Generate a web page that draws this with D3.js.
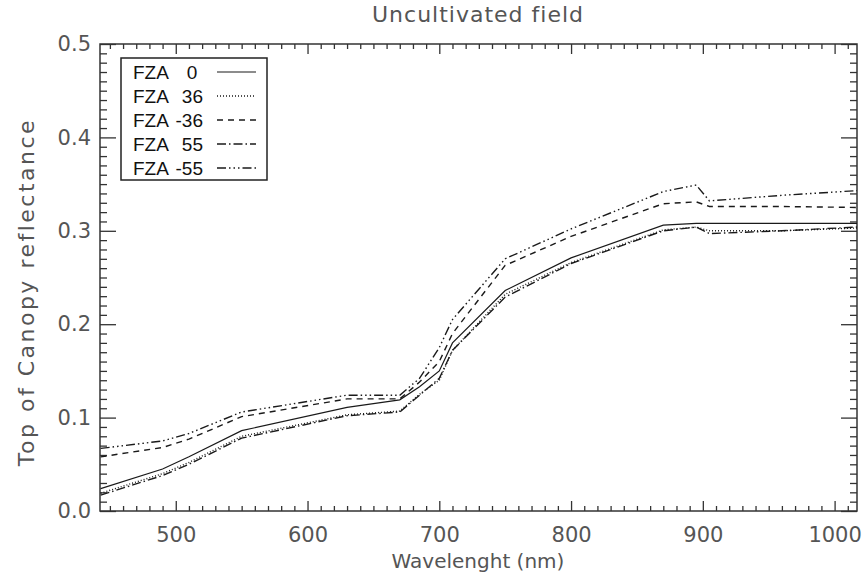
<!DOCTYPE html>
<html>
<head>
<meta charset="utf-8">
<script src="https://cdn.jsdelivr.net/npm/d3@7"></script>
<style>
  body { margin: 0; background: #fff; }
  .tickText { font-family: "DejaVu Sans", sans-serif; fill: #555; }
  .axisTitle { font-family: "DejaVu Sans", sans-serif; fill: #555; }
  .legendText { font-family: "Liberation Sans", Arial, sans-serif; fill: #111; }
</style>
</head>
<body>
<div id="chart"></div>
<script>
// Wavelengths (nm) shared by all curves
var wavelength = [443, 490, 510, 550, 630, 670, 685, 700, 710, 750, 800, 870, 895, 905, 960, 1017];

// Top of canopy reflectance for each view angle
var fza0   = [0.024, 0.045, 0.058, 0.086, 0.111, 0.119, 0.133, 0.150, 0.180, 0.236, 0.271, 0.306, 0.308, 0.308, 0.308, 0.308];
var fza36  = [0.019, 0.040, 0.052, 0.080, 0.103, 0.107, 0.125, 0.140, 0.172, 0.232, 0.266, 0.301, 0.304, 0.300, 0.300, 0.303];
var fzaM36 = [0.058, 0.068, 0.077, 0.101, 0.120, 0.120, 0.138, 0.160, 0.190, 0.263, 0.294, 0.329, 0.331, 0.326, 0.326, 0.325];
var fza55  = [0.017, 0.038, 0.050, 0.078, 0.102, 0.106, 0.124, 0.142, 0.172, 0.229, 0.265, 0.300, 0.304, 0.297, 0.300, 0.304];
var fzaM55 = [0.067, 0.075, 0.083, 0.106, 0.124, 0.124, 0.142, 0.175, 0.205, 0.270, 0.302, 0.342, 0.349, 0.332, 0.338, 0.343];

var seriesNames = ["0", "36", "-36", "55", "-55"];
var xTickValues = [500, 600, 700, 800, 900, 1000];
var yTickValues = [0.0, 0.1, 0.2, 0.3, 0.4, 0.5];

var width = 867, height = 578;
var plotLeft = 100, plotRight = 857, plotTop = 44, plotBottom = 511;

var svg = d3.select("#chart").append("svg")
  .attr("width", width)
  .attr("height", height);

var xScale = d3.scaleLinear().domain([442.5, 1017]).range([plotLeft, plotRight]);
var yScale = d3.scaleLinear().domain([0, 0.5]).range([plotBottom, plotTop]);

// minor tick positions
var xMinor = d3.range(450, 1017, 10).filter(function(d) { return d % 100 !== 0; });
var yMinor = d3.range(1, 50).filter(function(d) { return d % 10 !== 0; }).map(function(d) { return d / 100; });

function styleAxis(g) {
  g.select(".domain").remove();
  g.selectAll("line").attr("stroke", "#333").attr("stroke-width", 1.3);
}
function styleLabels(g) {
  g.selectAll("text").attr("class", "tickText").attr("font-size", 21).attr("font-family", null).attr("fill", null);
}

// bottom
svg.append("g").attr("transform", "translate(0," + plotBottom + ")")
  .call(d3.axisBottom(xScale).tickValues(xTickValues).tickSize(-10).tickPadding(16).tickFormat(d3.format("d")))
  .call(styleAxis)
  .call(styleLabels);
svg.append("g").attr("transform", "translate(0," + plotBottom + ")")
  .call(d3.axisBottom(xScale).tickValues(xMinor).tickSize(-5).tickFormat(""))
  .call(styleAxis);

// top
svg.append("g").attr("transform", "translate(0," + plotTop + ")")
  .call(d3.axisTop(xScale).tickValues(xTickValues).tickSize(-10).tickFormat(""))
  .call(styleAxis);
svg.append("g").attr("transform", "translate(0," + plotTop + ")")
  .call(d3.axisTop(xScale).tickValues(xMinor).tickSize(-5).tickFormat(""))
  .call(styleAxis);

// left
svg.append("g").attr("transform", "translate(" + plotLeft + ",0)")
  .call(d3.axisLeft(yScale).tickValues(yTickValues).tickSize(-16).tickPadding(9).tickFormat(d3.format(".1f")))
  .call(styleAxis)
  .call(styleLabels);
svg.append("g").attr("transform", "translate(" + plotLeft + ",0)")
  .call(d3.axisLeft(yScale).tickValues(yMinor).tickSize(-7).tickFormat(""))
  .call(styleAxis);

// right
svg.append("g").attr("transform", "translate(" + plotRight + ",0)")
  .call(d3.axisRight(yScale).tickValues(yTickValues).tickSize(-16).tickFormat(""))
  .call(styleAxis);
svg.append("g").attr("transform", "translate(" + plotRight + ",0)")
  .call(d3.axisRight(yScale).tickValues(yMinor).tickSize(-7).tickFormat(""))
  .call(styleAxis);

// frame
svg.append("rect")
  .attr("x", plotLeft).attr("y", plotTop)
  .attr("width", plotRight - plotLeft).attr("height", plotBottom - plotTop)
  .attr("fill", "none").attr("stroke", "#333").attr("stroke-width", 1.5);

// curves
var curves = [
  { name: "0",   values: fza0,   dash: null },
  { name: "36",  values: fza36,  dash: "1,2" },
  { name: "-36", values: fzaM36, dash: "6,5" },
  { name: "55",  values: fza55,  dash: "9,3,1.5,3" },
  { name: "-55", values: fzaM55, dash: "9,3,1.5,3,1.5,3,1.5,3" }
];

var line = d3.line()
  .x(function(d, i) { return xScale(wavelength[i]); })
  .y(function(d) { return yScale(d); });

curves.forEach(function(c) {
  svg.append("path")
    .datum(c.values)
    .attr("d", line)
    .attr("fill", "none")
    .attr("stroke", "#1a1a1a")
    .attr("stroke-width", c.dash ? 1.4 : 1.2)
    .attr("stroke-dasharray", c.dash);
});

// legend
var legend = svg.append("g");
legend.append("rect")
  .attr("x", 121).attr("y", 58)
  .attr("width", 146).attr("height", 122)
  .attr("fill", "#fff").attr("stroke", "#222").attr("stroke-width", 1.5);

curves.forEach(function(c, i) {
  var cy = 72 + i * 24;
  legend.append("text")
    .attr("class", "legendText")
    .attr("x", 133).attr("y", cy + 7)
    .attr("font-size", 19)
    .text("FZA");
  legend.append("text")
    .attr("class", "legendText")
    .attr("x", c.name === "0" ? 192 : 203).attr("y", cy + 7)
    .attr("text-anchor", c.name === "0" ? "middle" : "end")
    .attr("font-size", 19)
    .text(seriesNames[i]);
  legend.append("line")
    .attr("x1", 217).attr("x2", 256)
    .attr("y1", cy).attr("y2", cy)
    .attr("stroke", "#1a1a1a")
    .attr("stroke-width", c.dash ? 1.4 : 1.2)
    .attr("stroke-dasharray", c.dash);
});

// titles
svg.append("text")
  .attr("class", "axisTitle")
  .attr("x", 478).attr("y", 22)
  .attr("text-anchor", "middle")
  .attr("font-size", 22)
  .attr("letter-spacing", 1)
  .text("Uncultivated field");

svg.append("text")
  .attr("class", "axisTitle")
  .attr("x", 478).attr("y", 568)
  .attr("text-anchor", "middle")
  .attr("font-size", 20)
  .text("Wavelenght (nm)");

svg.append("text")
  .attr("class", "axisTitle")
  .attr("transform", "translate(34," + 292 + ")rotate(-90)")
  .attr("text-anchor", "middle")
  .attr("font-size", 22)
  .attr("letter-spacing", 2.5)
  .text("Top of Canopy reflectance");
</script>
</body>
</html>
